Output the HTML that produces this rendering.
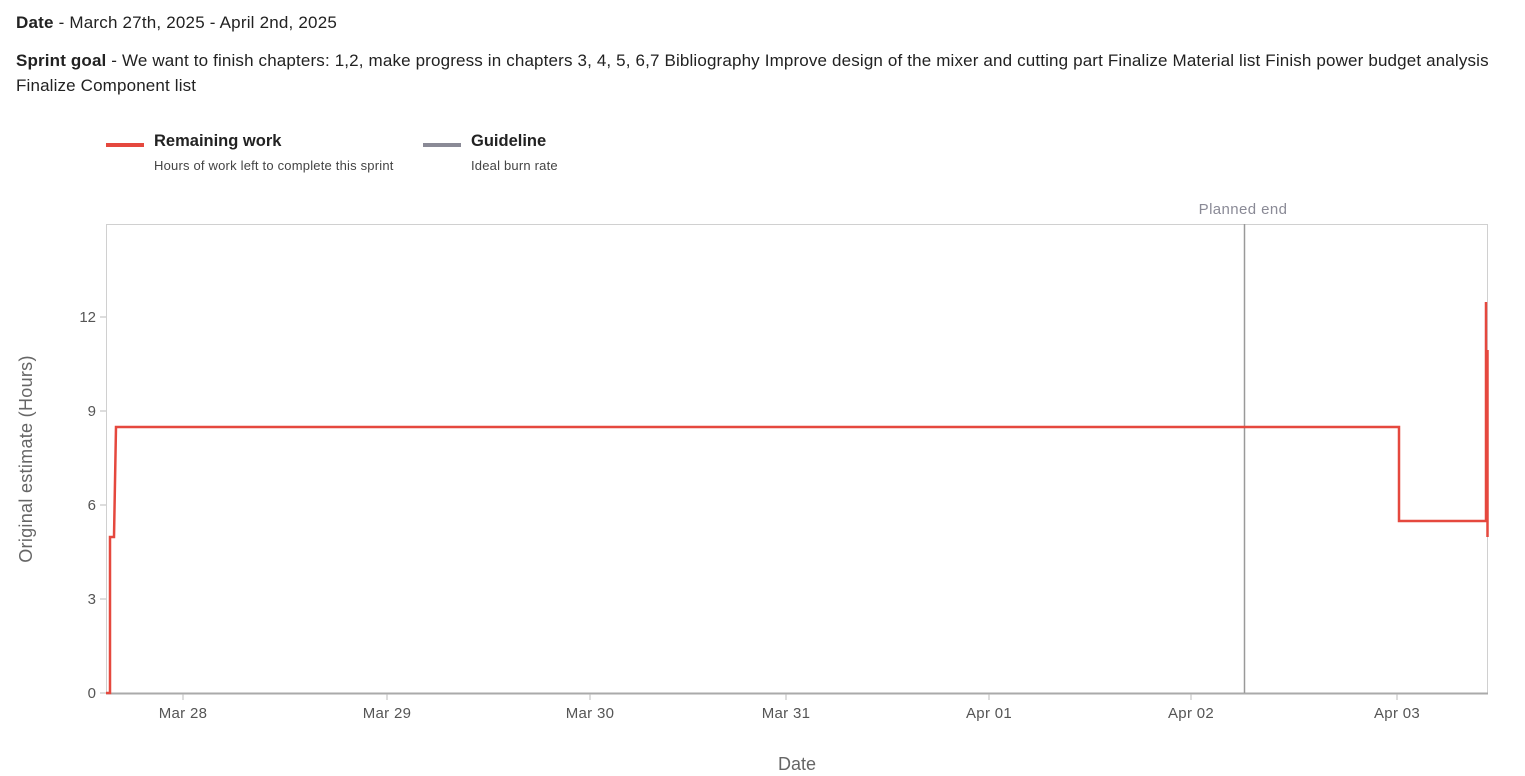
<!DOCTYPE html>
<html><head><meta charset="utf-8"><style>
body{margin:0;background:#fff;width:1525px;height:776px;overflow:hidden;font-family:"Liberation Sans",sans-serif;color:#222}
.t{position:absolute;white-space:nowrap}
</style></head><body>
<div class="t" style="left:16px;top:13px;font-size:17px;letter-spacing:0.2px"><b>Date</b> - March 27th, 2025 - April 2nd, 2025</div>
<div class="t" style="left:16px;top:48px;font-size:17px;letter-spacing:0.15px;line-height:25px;white-space:normal;width:1500px"><b>Sprint goal</b> - We want to finish chapters: 1,2, make progress in chapters 3, 4, 5, 6,7 Bibliography Improve design of the mixer and cutting part Finalize Material list Finish power budget analysis Finalize Component list</div>
<svg width="1525" height="776" style="position:absolute;left:0;top:0" font-family="Liberation Sans, sans-serif">
<rect x="106" y="143" width="38" height="4" fill="#e5483e"/>
<text x="154" y="146" font-size="16.5" font-weight="600" fill="#222">Remaining work</text>
<text x="154" y="170" font-size="13" letter-spacing="0.2" fill="#444">Hours of work left to complete this sprint</text>
<rect x="423" y="143" width="38" height="4" fill="#8a8a96"/>
<text x="471" y="146" font-size="16.5" font-weight="600" fill="#222">Guideline</text>
<text x="471" y="170" font-size="13" letter-spacing="0.2" fill="#444">Ideal burn rate</text>
<rect x="106.5" y="224.5" width="1381" height="469" fill="none" stroke="#d0d0d0"/>
<line x1="106" y1="693.5" x2="1488" y2="693.5" stroke="#aaa" stroke-width="2"/>
<g font-size="15" fill="#555" text-anchor="end">
<text x="96" y="698">0</text><text x="96" y="604">3</text><text x="96" y="510">6</text><text x="96" y="416">9</text><text x="96" y="322">12</text></g>
<g stroke="#bbb"><line x1="100" y1="693" x2="106" y2="693"/><line x1="100" y1="599" x2="106" y2="599"/><line x1="100" y1="505" x2="106" y2="505"/><line x1="100" y1="411" x2="106" y2="411"/><line x1="100" y1="317" x2="106" y2="317"/>
<line x1="183" y1="694" x2="183" y2="700"/><line x1="387" y1="694" x2="387" y2="700"/><line x1="590" y1="694" x2="590" y2="700"/><line x1="786" y1="694" x2="786" y2="700"/><line x1="989" y1="694" x2="989" y2="700"/><line x1="1191" y1="694" x2="1191" y2="700"/><line x1="1397" y1="694" x2="1397" y2="700"/></g>
<g font-size="15" letter-spacing="0.3" fill="#555" text-anchor="middle">
<text x="183" y="718">Mar 28</text><text x="387" y="718">Mar 29</text><text x="590" y="718">Mar 30</text><text x="786" y="718">Mar 31</text><text x="989" y="718">Apr 01</text><text x="1191" y="718">Apr 02</text><text x="1397" y="718">Apr 03</text></g>
<text x="797" y="770" font-size="18" fill="#666" text-anchor="middle">Date</text>
<text transform="translate(32,459) rotate(-90)" font-size="18" letter-spacing="0.3" fill="#666" text-anchor="middle">Original estimate (Hours)</text>
<line x1="1244.5" y1="224" x2="1244.5" y2="693" stroke="#999" stroke-width="1.5"/>
<text x="1243" y="214" font-size="15" letter-spacing="0.4" fill="#8a8a96" text-anchor="middle">Planned end</text>
<polyline fill="none" stroke="#e5483e" stroke-width="2.5" points="106,693 110,693 110,537 114,537 116,427 1399,427 1399,521 1486,521 1486,302"/>
<line x1="1487.5" y1="350" x2="1487.5" y2="537" stroke="#e5483e" stroke-width="2.5"/>
</svg>
</body></html>
